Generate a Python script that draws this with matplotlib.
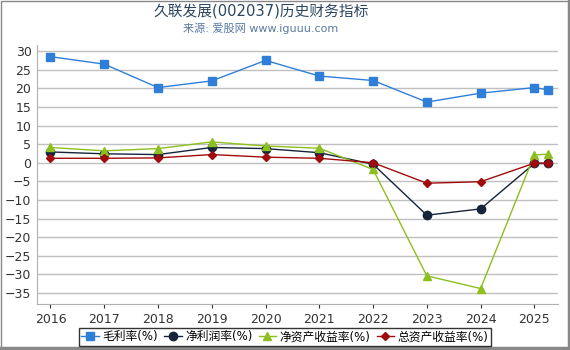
import matplotlib.pyplot as plt
from matplotlib.lines import Line2D

plt.rcParams['font.family'] = ['DejaVu Sans', 'Noto Sans CJK SC']

# x positions: years, last point is the latest quarter of 2025
years = [2016, 2017, 2018, 2019, 2020, 2021, 2022, 2023, 2024, 2025, 2025.25]
year_ticks = [2016, 2017, 2018, 2019, 2020, 2021, 2022, 2023, 2024, 2025]

gross_margin = [28.5, 26.5, 20.2, 22.0, 27.5, 23.3, 22.1, 16.3, 18.7, 20.2, 19.6]
net_margin = [2.9, 2.4, 2.2, 4.1, 3.8, 2.7, -0.4, -14.1, -12.4, -0.2, -0.2]
roe = [4.1, 3.2, 3.8, 5.6, 4.5, 3.9, -1.8, -30.4, -33.8, 2.1, 2.3]
roa = [1.2, 1.2, 1.3, 2.2, 1.5, 1.2, 0.0, -5.5, -5.1, -0.1, -0.1]

series = [
    ('毛利率(%)', gross_margin, '#2f7fd8', 's', 6),
    ('净利润率(%)', net_margin, '#15243a', 'o', 6),
    ('净资产收益率(%)', roe, '#8cbf1f', '^', 6),
    ('总资产收益率(%)', roa, '#a00c0c', 'D', 4),
]

fig = plt.figure(figsize=(5.7, 3.5), dpi=100)
ax = fig.add_axes([0.065, 0.131, 0.914, 0.74])

for label, vals, color, marker, ms in series:
    ax.plot(years, vals, color=color, marker=marker, markersize=ms,
            linewidth=1, label=label)

ax.set_xlim(2015.75, 2025.44)
ax.set_ylim(-38, 31.6)
ax.set_xticks(year_ticks)
ax.set_xticklabels([str(y) for y in year_ticks])
ax.set_yticks(range(-35, 31, 5))
ax.tick_params(labelsize=9, colors='#333333', length=3)
ax.tick_params(axis='y', length=0, pad=4)
ax.grid(axis='y', color='#c0c0c0', linewidth=1)
ax.set_axisbelow(True)
for s in ['top', 'right']:
    ax.spines[s].set_visible(False)
for s in ['left', 'bottom']:
    ax.spines[s].set_color('#b0b0b0')

fig.text(0.458, 0.968, '久联发展(002037)历史财务指标', ha='center', va='center',
         fontsize=10.6, color='#2b4560')
fig.text(0.458, 0.918, '来源: 爱股网 www.iguuu.com', ha='center', va='center',
         fontsize=8, color='#5a7aa0')

leg = fig.legend(loc='lower center', bbox_to_anchor=(0.5, 0.012), ncol=4,
                 fontsize=8.5, frameon=True, fancybox=False, handlelength=1.5,
                 handletextpad=0.3, columnspacing=0.5, borderpad=0.2,
                 borderaxespad=0)
leg.get_frame().set_edgecolor('black')
leg.get_frame().set_linewidth(1)

# frame round the picture: thin on top/left, heavier on right/bottom
fig.lines.append(Line2D([0.001, 0.001, 0.997], [0.0, 0.998, 0.998],
                        transform=fig.transFigure, color='#888888', linewidth=1))
fig.lines.append(Line2D([0.0, 0.9974, 0.9974], [0.0043, 0.0043, 1.0],
                        transform=fig.transFigure, color='#888888', linewidth=2.5))

fig.savefig('out.png', dpi=100)
